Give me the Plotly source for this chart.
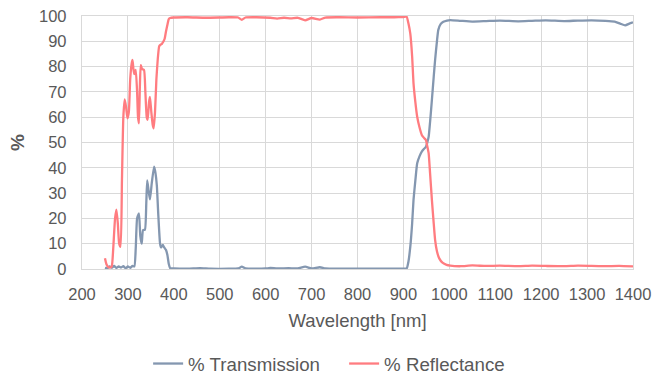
import plotly.graph_objects as go

# Transmission (%) vs wavelength (nm)
trans_wl = [250, 255, 260, 265, 270, 275, 280, 285, 290, 295, 300, 305, 310, 314, 317, 320, 324, 327, 330, 333, 337, 340, 342, 345, 348, 352, 357, 360, 363, 366, 370, 372, 376, 379, 383, 386, 389, 392, 400, 430, 457, 480, 520, 540, 548, 556, 580, 600, 610, 625, 650, 670, 686, 700, 718, 730, 760, 800, 850, 880, 900, 907, 911, 915, 919, 922, 926, 930, 935, 940, 945, 949, 952, 955, 958, 962, 966, 969, 973, 976, 981, 987, 995, 1002, 1025, 1050, 1080, 1110, 1150, 1180, 1210, 1250, 1280, 1310, 1340, 1360, 1372, 1383, 1392, 1400]
trans_val = [0.5, 0.3, 1.0, 0.5, 1.2, 0.4, 1.0, 0.6, 1.1, 0.3, 1.0, 0.5, 1.2, 1.0, 8, 20, 22, 13, 10, 15.4, 15.5, 26, 35, 31, 27.5, 34, 40.5, 38, 33, 22, 10, 8.5, 9.5, 8.5, 7.5, 5.5, 2, 0.3, 0.2, 0.1, 0.3, 0.1, 0.1, 0.2, 0.9, 0.2, 0.1, 0.2, 0.4, 0.2, 0.3, 0.2, 0.9, 0.2, 0.7, 0.2, 0.1, 0.1, 0.1, 0.1, 0.1, 0.2, 3, 8.8, 18, 27.3, 35, 41.8, 44.5, 46.4, 47.5, 48.3, 50, 52.3, 58, 66.8, 76, 82.6, 90, 94.5, 96.8, 97.7, 98.2, 98.4, 98.1, 97.8, 98.0, 98.2, 97.9, 98.1, 98.3, 98.0, 98.2, 98.3, 98.1, 97.8, 97.0, 96.3, 97.0, 97.5]

# Reflectance (%) vs wavelength (nm)
refl_wl = [250, 253, 257, 262, 265, 268, 272, 275, 278, 281, 284, 287, 290, 293, 296, 299, 302, 305, 308, 310, 312, 314, 317, 320, 322, 324, 326, 328, 331, 335, 338, 341, 343, 346, 348, 351, 354, 356, 359, 362, 365, 368, 370, 374, 377, 380, 383, 386, 389, 392, 400, 430, 470, 520, 540, 548, 556, 580, 610, 625, 640, 655, 670, 686, 700, 718, 730, 760, 800, 850, 880, 900, 907, 911, 915, 919, 922, 926, 930, 935, 940, 945, 949, 952, 955, 958, 962, 966, 969, 973, 978, 985, 994, 1002, 1025, 1050, 1080, 1110, 1150, 1180, 1210, 1250, 1280, 1310, 1340, 1370, 1400]
refl_val = [4.2, 2, 0.8, 0.6, 1.2, 8, 20, 23.5, 18, 10, 8.8, 35, 60, 67, 64, 59.5, 62, 75, 81, 82.6, 79, 77, 78.7, 70, 60, 57.6, 72, 80.6, 79, 78.7, 70, 60, 59, 66, 68, 62, 57, 55.6, 62, 75, 83, 88, 88.5, 89, 89.8, 91, 94, 96.5, 98.8, 99.2, 99.4, 99.5, 99.3, 99.5, 99.4, 98.5, 99.4, 99.5, 99.3, 99.0, 99.3, 99.1, 99.3, 98.3, 99.2, 98.6, 99.4, 99.5, 99.4, 99.5, 99.5, 99.6, 99.7, 97, 93, 84, 73.4, 66, 60.2, 56, 53, 51.8, 51, 48.5, 45.7, 38, 27.3, 18, 11.5, 7, 4.2, 2.5, 1.6, 1.3, 1.1, 1.4, 1.2, 1.3, 1.1, 1.3, 1.2, 1.1, 1.3, 1.2, 1.1, 1.2, 1.0]

x_ticks = [200, 300, 400, 500, 600, 700, 800, 900, 1000, 1100, 1200, 1300, 1400]
y_ticks = [0, 10, 20, 30, 40, 50, 60, 70, 80, 90, 100]

FONT = "Liberation Sans, Arial, sans-serif"
GRID = "#d9d9d9"
TXT = "#595959"

fig = go.Figure()
fig.add_trace(go.Scatter(x=trans_wl, y=trans_val, mode="lines", name="% Transmission",
                         line=dict(color="#8497b0", width=2.3, shape="spline", smoothing=0.5)))
fig.add_trace(go.Scatter(x=refl_wl, y=refl_val, mode="lines", name="% Reflectance",
                         line=dict(color="#ff7c80", width=2.3, shape="spline", smoothing=0.5)))

fig.update_layout(
    width=653, height=376,
    margin=dict(l=82, r=20, t=16, b=107, autoexpand=False),
    paper_bgcolor="white", plot_bgcolor="white",
    font=dict(family=FONT, color=TXT, size=16),
    showlegend=True,
    legend=dict(orientation="h", x=0.12, xanchor="left", y=-0.375, yanchor="middle",
                font=dict(size=18.7, color=TXT), itemwidth=30, tracegroupgap=0,
                entrywidth=151, entrywidthmode="pixels"),
)
fig.update_xaxes(range=[200, 1400], tickvals=x_ticks, ticktext=[str(v) for v in x_ticks],
                 automargin=False,
                 showgrid=True, gridcolor=GRID, gridwidth=1.3,
                 showline=True, linecolor=GRID, linewidth=1.3, mirror=True,
                 zeroline=False, ticks="", ticklabelstandoff=10,
                 tickfont=dict(size=16.5, color=TXT),
                 title=dict(text="Wavelength [nm]", font=dict(size=18.5, color=TXT), standoff=12))
fig.update_yaxes(range=[0, 100], tickvals=y_ticks, ticktext=[str(v) for v in y_ticks],
                 automargin=False,
                 showgrid=True, gridcolor=GRID, gridwidth=1.3,
                 showline=True, linecolor=GRID, linewidth=1.3, mirror=True,
                 zeroline=False, ticks="", ticklabelstandoff=11,
                 tickfont=dict(size=16.5, color=TXT),
                 title=dict(text="<b>%</b>", font=dict(size=19, color=TXT), standoff=9))

fig.write_html("out.html")
